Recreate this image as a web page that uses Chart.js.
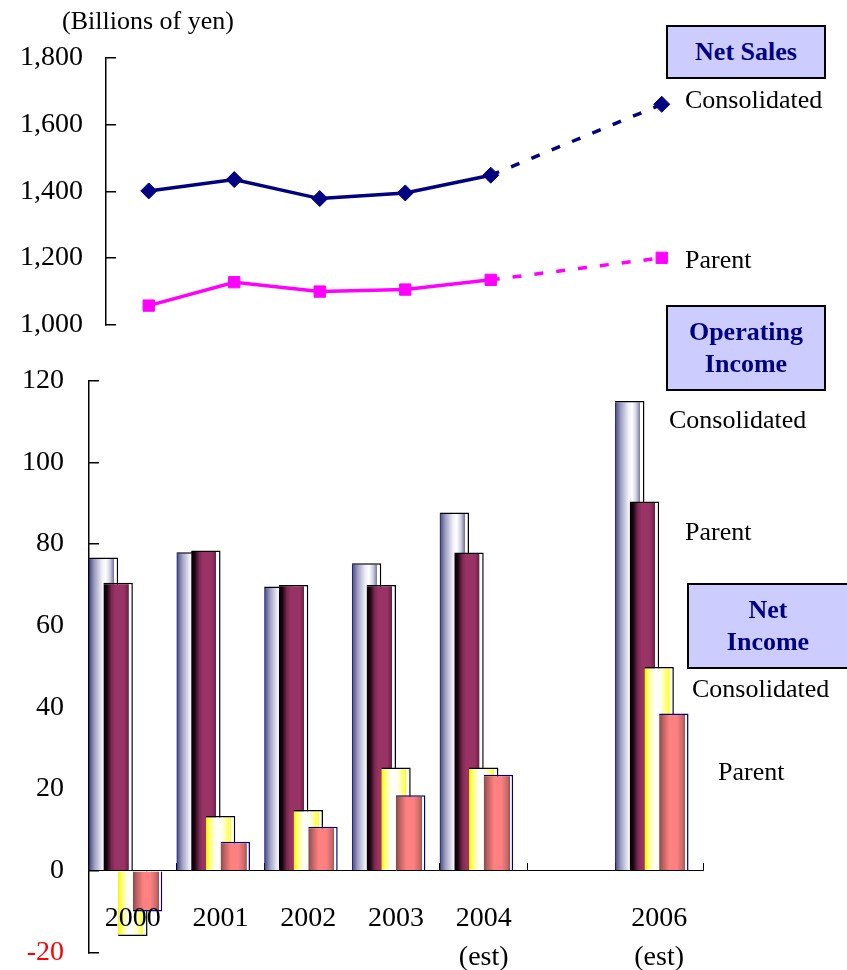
<!DOCTYPE html>
<html>
<head>
<meta charset="utf-8">
<script src="https://cdn.jsdelivr.net/npm/chart.js@4.4.1/dist/chart.umd.min.js"></script>
<style>
  html, body { margin: 0; padding: 0; background: #ffffff; }
  #wrap { position: relative; width: 847px; height: 970px; overflow: hidden;
          font-family: "Liberation Serif", "Times New Roman", serif; }
  #wrap canvas { position: absolute; left: 0; top: 0; }
  .lbl { position: absolute; font-size: 26px; line-height: 26px; color: #000; white-space: nowrap; }
  .box { position: absolute; box-sizing: border-box; border: 2px solid #000; background: #ccccff;
         color: #000080; font-weight: bold; font-size: 26px; line-height: 32px; text-align: center;
         display: flex; flex-direction: column; justify-content: center; }
</style>
</head>
<body>
<div id="wrap">
  <canvas id="salesChart" width="847" height="970"></canvas>
  <canvas id="incomeChart" width="847" height="970"></canvas>

  <div class="lbl" style="left:62px; top:8px;">(Billions of yen)</div>

  <div class="box" style="left:666px; top:25px; width:160px; height:54px;">Net Sales</div>
  <div class="lbl" style="left:685px; top:87px;">Consolidated</div>
  <div class="lbl" style="left:685px; top:247px;">Parent</div>

  <div class="box" style="left:666px; top:305px; width:160px; height:86px;"><div>Operating</div><div>Income</div></div>
  <div class="lbl" style="left:669px; top:407px;">Consolidated</div>
  <div class="lbl" style="left:685px; top:519px;">Parent</div>

  <div class="box" style="left:687px; top:583px; width:162px; height:86px;"><div>Net</div><div>Income</div></div>
  <div class="lbl" style="left:692px; top:676px;">Consolidated</div>
  <div class="lbl" style="left:718px; top:759px;">Parent</div>
</div>

<script>
// Fiscal years (2005 is an empty slot on the axis)
const years = ['2000', '2001', '2002', '2003', '2004', '2005', '2006'];
const yearLabels = ['2000', '2001', '2002', '2003', ['2004', '(est)'], '', ['2006', '(est)']];

// Net sales, billions of yen
const salesConsolidated = [1401, 1435, 1378, 1395, 1448, null, 1660];
const salesParent       = [1058, 1128, 1100, 1106, 1135, null, 1201];

// Operating income, billions of yen
const opConsolidated = [76.7, 78.0, 69.6, 75.3, 87.7, null, 115.0];
const opParent       = [70.5, 78.4, 70.0, 70.0, 77.9, null, 90.4];

// Net income, billions of yen
const netConsolidated = [-16.0, 13.4, 14.9, 25.3, 25.3, null, 49.9];
const netParent       = [-10.0, 7.1, 10.8, 18.5, 23.5, null, 38.5];

// Axis ranges and the last point joined by a solid line
const salesMin = 1000, salesMax = 1800, salesStep = 200;
const incomeMin = -20, incomeMax = 120, incomeStep = 20;
const solidThrough = 4;

Chart.defaults.font.family = '"Liberation Serif", "Times New Roman", serif';
Chart.defaults.color = '#000000';

// keep the value axes from pushing the plot area in
const fixedAxis = (width) => (s) => {
  s.width = width;
  s.paddingTop = 0;
  s.paddingBottom = 0;
};

// ---------- Net sales lines ----------
const dashedAfter = (c) => (c.p1DataIndex > solidThrough ? [9, 13] : undefined);

new Chart(document.getElementById('salesChart'), {
  type: 'line',
  data: {
    labels: years,
    datasets: [
      {
        label: 'Consolidated',
        data: salesConsolidated,
        borderColor: '#000080',
        backgroundColor: '#000080',
        borderWidth: 3.5,
        pointStyle: 'rectRot',
        pointRadius: 8,
        pointBorderWidth: 1,
        spanGaps: true,
        segment: { borderDash: dashedAfter }
      },
      {
        label: 'Parent',
        data: salesParent,
        borderColor: '#ff00ff',
        backgroundColor: '#ff00ff',
        borderWidth: 3.5,
        pointStyle: 'rect',
        pointRadius: 8,
        pointBorderWidth: 1,
        spanGaps: true,
        segment: { borderDash: dashedAfter }
      }
    ]
  },
  options: {
    responsive: false,
    animation: false,
    events: [],
    layout: { padding: { left: 0, top: 57.5, right: 142.5, bottom: 645 } },
    plugins: { legend: { display: false }, tooltip: { enabled: false } },
    scales: {
      x: { type: 'category', offset: true, display: false },
      y: {
        min: salesMin, max: salesMax,
        afterFit: fixedAxis(106),
        ticks: {
          stepSize: salesStep, padding: 33, color: '#000000',
          font: { size: 28 },
          callback: (v) => v.toLocaleString('en-US')
        },
        grid: { drawOnChartArea: false, tickLength: -10, color: '#000000', lineWidth: 1.5 },
        border: { color: '#000000', width: 1.5 }
      }
    }
  }
});

// ---------- Income bars ----------
// Horizontal shading of each bar series (offsets across the bar width)
const barShades = [
  [[0, '#000070'], [0.05, '#5a5a8c'], [0.2, '#a0a0c4'], [0.45, '#eeeef6'], [0.58, '#ffffff'],
   [0.72, '#d0d0e2'], [0.85, '#7878a4'], [0.86, '#ffffff'], [1, '#ffffff']],
  [[0, '#000000'], [0.12, '#1a0510'], [0.27, '#7a2850'], [0.4, '#993366'], [0.7, '#993366'],
   [0.85, '#6a2046'], [0.86, '#ffffff'], [1, '#ffffff']],
  [[0, '#e0e000'], [0.04, '#ffff00'], [0.15, '#ffff90'], [0.35, '#ffffff'], [0.55, '#fffff0'],
   [0.75, '#ffff70'], [0.85, '#ffff30'], [0.86, '#ffffff'], [1, '#ffffff']],
  [[0, '#8c4646'], [0.12, '#b86060'], [0.35, '#ff8080'], [0.6, '#ff8080'], [0.8, '#c86a6a'],
   [0.88, '#a05555'], [0.89, '#ffffff'], [1, '#ffffff']]
];

// Paints each series with its shading and draws them left to right,
// so that every bar overlaps the one before it.
const shadedOverlap = {
  id: 'shadedOverlap',
  beforeDatasetsDraw(chart) {
    const ctx = chart.ctx;
    chart.getSortedVisibleDatasetMetas().forEach((meta) => {
      const stops = barShades[meta.index];
      if (stops) {
        meta.data.forEach((bar) => {
          const { x, width } = bar.getProps(['x', 'width'], true);
          const g = ctx.createLinearGradient(x - width / 2, 0, x + width / 2, 0);
          stops.forEach(([o, c]) => g.addColorStop(o, c));
          bar.options = Object.assign({}, bar.options, { backgroundColor: g });
        });
      }
      meta.controller.draw();
    });
    return false;
  }
};

const edge = (c) => (c.raw < 0 ? { bottom: 1.5, right: 1.5 } : { top: 1.5, right: 1.5 });

new Chart(document.getElementById('incomeChart'), {
  type: 'bar',
  data: {
    labels: yearLabels,
    datasets: [
      { label: 'Operating income (consolidated)', data: opConsolidated, backgroundColor: '#c0c0d8', borderColor: '#000000', borderWidth: edge },
      { label: 'Operating income (parent)', data: opParent, backgroundColor: '#993366', borderColor: '#000000', borderWidth: edge },
      { label: 'Net income (consolidated)', data: netConsolidated, backgroundColor: '#ffffa0', borderColor: '#000000', borderWidth: edge },
      { label: 'Net income (parent)', data: netParent, backgroundColor: '#ff8080', borderColor: '#000080', borderWidth: edge },
      // open slot that keeps each group to the left of its year
      { label: '', data: [] }
    ]
  },
  options: {
    responsive: false,
    animation: false,
    events: [],
    categoryPercentage: 0.838,
    barPercentage: 2.0,
    layout: { padding: { left: 0, top: 380.7, right: 144, bottom: 17.6 } },
    plugins: { legend: { display: false }, tooltip: { enabled: false } },
    scales: {
      x: {
        type: 'category',
        position: { y: 0 },
        offset: true,
        ticks: {
          z: 1, padding: 36, color: '#000000', maxRotation: 0, autoSkip: false,
          font: { size: 28, lineHeight: 1.4 }
        },
        grid: { offset: true, drawOnChartArea: false, tickLength: -8, color: '#000000', lineWidth: 1 },
        border: { z: 1, color: '#000000', width: 1 }
      },
      y: {
        min: incomeMin, max: incomeMax,
        afterFit: fixedAxis(89),
        ticks: {
          stepSize: incomeStep, padding: 35,
          font: { size: 28 },
          color: (c) => (c.tick && c.tick.value < 0 ? '#ff0000' : '#000000')
        },
        grid: { drawOnChartArea: false, tickLength: -10, color: '#000000', lineWidth: 1.5 },
        border: { color: '#000000', width: 1.5 }
      }
    }
  },
  plugins: [shadedOverlap]
});
</script>
</body>
</html>
